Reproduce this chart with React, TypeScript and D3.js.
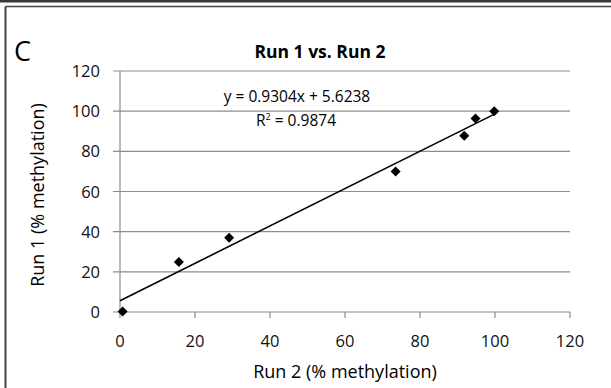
import * as React from 'react';
import * as d3 from 'd3';

// Run 2 (x) vs Run 1 (y), % methylation
const run2 = [0.7, 15.7, 29.1, 73.5, 91.8, 94.8, 99.8];
const run1 = [0.3, 24.9, 37.0, 70.0, 87.8, 96.4, 100.0];
const xTicks = [0, 20, 40, 60, 80, 100, 120];
const yTicks = [0, 20, 40, 60, 80, 100, 120];
const slope = 0.9304;
const intercept = 5.6238;
const trendX = [0, 100];

const W = 611;
const H = 388;
const FONT = "'Open Sans', 'DejaVu Sans', sans-serif";

export default function App() {
  const ref = React.useRef<SVGSVGElement>(null);

  React.useEffect(() => {
    const svg = d3.select(ref.current);
    svg.selectAll('*').remove();

    const x = d3.scaleLinear().domain([0, 120]).range([120, 570]);
    const y = d3.scaleLinear().domain([0, 120]).range([312, 71]);

    // frame
    svg.append('rect').attr('x', 0).attr('y', 0).attr('width', W).attr('height', 2.5).attr('fill', '#3a3a3a');
    svg.append('line').attr('x1', 5.5).attr('x2', W).attr('y1', 6.5).attr('y2', 6.5)
      .attr('stroke', '#444').attr('stroke-width', 1.5);
    svg.append('line').attr('x1', 5.5).attr('x2', 5.5).attr('y1', 6.5).attr('y2', H)
      .attr('stroke', '#444').attr('stroke-width', 2);

    // gridlines (extend left as tick marks)
    svg.append('g').selectAll('line').data(yTicks).enter().append('line')
      .attr('x1', 113).attr('x2', x(120))
      .attr('y1', d => y(d)).attr('y2', d => y(d))
      .attr('stroke', '#8c8c8c').attr('stroke-width', 1.2);

    // y axis line
    svg.append('line').attr('x1', x(0)).attr('x2', x(0)).attr('y1', y(120)).attr('y2', y(0))
      .attr('stroke', '#8c8c8c').attr('stroke-width', 1.2);

    // x axis ticks
    svg.append('g').selectAll('line').data(xTicks).enter().append('line')
      .attr('x1', d => x(d)).attr('x2', d => x(d))
      .attr('y1', y(0)).attr('y2', y(0) + 6)
      .attr('stroke', '#8c8c8c').attr('stroke-width', 1.2);

    // tick labels
    svg.append('g').selectAll('text').data(yTicks).enter().append('text')
      .attr('x', 100).attr('y', d => y(d) + 6)
      .attr('text-anchor', 'end').style('font-family', FONT).style('font-size', '16.5px')
      .attr('fill', '#111').text(d => d);
    svg.append('g').selectAll('text').data(xTicks).enter().append('text')
      .attr('x', d => x(d)).attr('y', 347)
      .attr('text-anchor', 'middle').style('font-family', FONT).style('font-size', '16.5px')
      .attr('fill', '#111').text(d => d);

    // trendline
    const line = d3.line<number>().x(d => x(d)).y(d => y(slope * d + intercept));
    svg.append('path').attr('d', line(trendX)).attr('fill', 'none')
      .attr('stroke', '#000').attr('stroke-width', 1.6);

    // points
    const sym = d3.symbol().type(d3.symbolSquare).size(50);
    svg.append('g').selectAll('path').data(run2).enter().append('path')
      .attr('d', sym())
      .attr('transform', (d, i) => `translate(${x(d)},${y(run1[i])}) rotate(45)`)
      .attr('fill', '#000');

    // title and labels
    svg.append('text').attr('x', 320).attr('y', 58).attr('text-anchor', 'middle')
      .style('font-family', FONT).style('font-size', '17.5px').style('font-weight', 'bold')
      .text('Run 1 vs. Run 2');
    svg.append('text').attr('x', 14).attr('y', 61)
      .style('font-family', FONT).style('font-size', '27px').text('C');
    svg.append('text').attr('x', 345).attr('y', 378).attr('text-anchor', 'middle')
      .style('font-family', FONT).style('font-size', '18px').text('Run 2 (% methylation)');
    svg.append('text').attr('transform', 'translate(44,195) rotate(-90)').attr('text-anchor', 'middle')
      .style('font-family', FONT).style('font-size', '18px').text('Run 1 (% methylation)');

    // equation
    svg.append('text').attr('x', 297).attr('y', 102).attr('text-anchor', 'middle')
      .style('font-family', FONT).style('font-size', '15.5px').text('y = 0.9304x + 5.6238');
    const r2 = svg.append('text').attr('x', 296).attr('y', 126).attr('text-anchor', 'middle')
      .style('font-family', FONT).style('font-size', '15.5px');
    r2.append('tspan').text('R');
    r2.append('tspan').attr('dy', -6).style('font-size', '9px').text('2');
    r2.append('tspan').attr('dy', 6).text(' = 0.9874');
  }, []);

  return (
    <svg ref={ref} width={W} height={H}
      style={{ position: 'absolute', left: 0, top: 0, background: '#fff' }} />
  );
}
